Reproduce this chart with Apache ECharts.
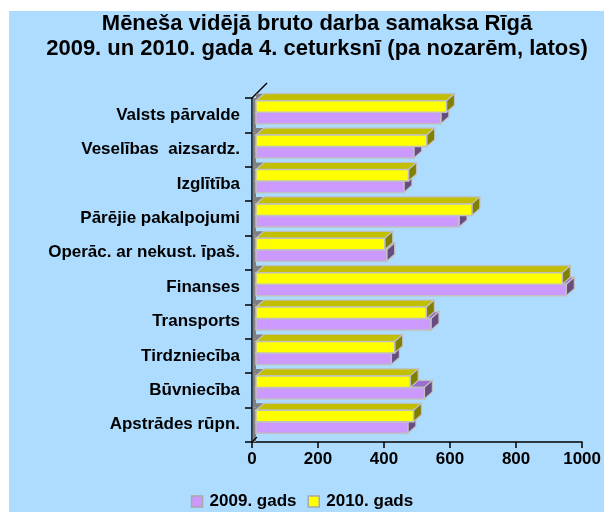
<!DOCTYPE html>
<html>
<head>
<meta charset="utf-8">
<script src="https://cdn.jsdelivr.net/npm/echarts@6/dist/echarts.min.js"></script>
<style>
  html, body { margin: 0; padding: 0; background: #fff; }
  #chart { width: 604px; height: 512px; }
</style>
</head>
<body>
<div id="chart"></div>
<script>
// nozares (no apakšas uz augšu)
const categories = ['Apstrādes rūpn.', 'Būvniecība', 'Tirdzniecība', 'Transports', 'Finanses',
  'Operāc. ar nekust. īpaš.', 'Pārējie pakalpojumi', 'Izglītība', 'Veselības  aizsardz.', 'Valsts pārvalde'];
const values2009 = [460, 510, 410, 530, 940, 396, 615, 448, 478, 560];
const values2010 = [477, 467, 420, 516, 928, 390, 654, 462, 517, 577];
const seriesNames = ['2009. gads', '2010. gads'];
const xMin = 0;
const xMax = 1000;
const xStep = 200;

const FONT = "'Liberation Sans', Arial, sans-serif";
const BORDER = '#c0c0c0';
const WALL = '#808080';

// krāsas: priekša, augša, sāns
const palette = [
  { front: '#cc99ff', top: '#9a70cc', side: '#664c80' },
  { front: '#ffff00', top: '#c2bf00', side: '#808000' }
];

function makeRender(s) {
  const c = palette[s];
  return function (params, api) {
    const idx = api.value(1);
    const base = api.coord([0, idx]);
    const end = api.coord([api.value(0), idx]);
    const band = api.size([0, 1])[1];
    const h = band * 0.335;
    const shift = 4, dx = 8, dy = 7;
    const x0 = base[0] + shift;
    const x1 = end[0] + shift;
    const mid = base[1] - 3;
    const yT = s === 1 ? mid - h : mid;
    const children = [];
    if (s === 0) {
      // sānu siena
      children.push({
        type: 'rect',
        shape: { x: base[0] + 0.75, y: base[1] - band / 2, width: shift - 0.75, height: band },
        style: { fill: WALL }
      });
      if (idx === categories.length - 1) {
        const yt = base[1] - band / 2;
        children.push({
          type: 'line',
          shape: { x1: base[0], y1: yt, x2: base[0] + 15, y2: yt - 15 },
          style: { stroke: '#000', lineWidth: 1.5 }
        });
      }
      if (idx === 0) {
        const yb = base[1] + band / 2;
        children.push({
          type: 'line',
          shape: { x1: base[0], y1: yb, x2: base[0] + 5, y2: yb - 5 },
          style: { stroke: '#000', lineWidth: 1.2 }
        });
      }
    } else {
      children.push({
        type: 'polygon',
        shape: { points: [[x0, yT - dy], [x0 + dx, yT - dy], [x0, yT]] },
        style: { fill: WALL }
      });
    }
    // augšējā virsma
    children.push({
      type: 'polygon',
      shape: { points: [[x0, yT], [x0 + dx, yT - dy], [x1 + dx, yT - dy], [x1, yT]] },
      style: { fill: c.top, stroke: BORDER, lineWidth: 1.2 }
    });
    // sāns
    children.push({
      type: 'polygon',
      shape: { points: [[x1, yT], [x1 + dx, yT - dy], [x1 + dx, yT + h - dy], [x1, yT + h]] },
      style: { fill: c.side, stroke: BORDER, lineWidth: 1.2 }
    });
    // priekšpuse
    children.push({
      type: 'rect',
      shape: { x: x0, y: yT, width: x1 - x0, height: h },
      style: { fill: c.front, stroke: BORDER, lineWidth: 1.5 }
    });
    return { type: 'group', children: children };
  };
}

const chart = echarts.init(document.getElementById('chart'), null, { renderer: 'canvas' });
chart.setOption({
  backgroundColor: '#ffffff',
  animation: false,
  textStyle: { fontFamily: FONT },
  graphic: [{
    type: 'rect',
    z: -10,
    shape: { x: 9, y: 11, width: 600, height: 510 },
    style: { fill: '#aedcff' }
  }],
  title: {
    text: 'Mēneša vidējā bruto darba samaksa Rīgā\n2009. un 2010. gada 4. ceturksnī (pa nozarēm, latos)',
    left: 312,
    top: 6,
    textAlign: 'center',
    textStyle: { fontFamily: FONT, fontSize: 22, fontWeight: 'bold', color: '#000', lineHeight: 25 }
  },
  legend: {
    data: seriesNames,
    top: 488,
    left: 'center',
    icon: 'rect',
    itemWidth: 11,
    itemHeight: 11,
    itemGap: 11,
    itemStyle: { borderColor: '#a8a8a8', borderWidth: 1.5 },
    textStyle: { fontFamily: FONT, fontSize: 17, fontWeight: 'bold', color: '#000', padding: [0, 0, 0, 2] }
  },
  grid: { left: 252, right: 17, top: 98, bottom: 70, containLabel: false },
  xAxis: {
    type: 'value',
    min: xMin,
    max: xMax,
    interval: xStep,
    splitLine: { show: false },
    axisLine: { show: true, lineStyle: { color: '#000', width: 1.5 } },
    axisTick: { show: true, length: 6, lineStyle: { color: '#000', width: 1.5 } },
    axisLabel: {
      margin: 9,
      formatter: function (v) { return String(v); },
      fontFamily: FONT, fontSize: 17, fontWeight: 'bold', color: '#000'
    }
  },
  yAxis: {
    type: 'category',
    data: categories,
    axisLine: { show: true, lineStyle: { color: '#000', width: 1.5 } },
    axisTick: { show: true, length: 7, lineStyle: { color: '#000', width: 1.5 } },
    axisLabel: { margin: 12, padding: [0, 0, 3, 0], fontFamily: FONT, fontSize: 17, fontWeight: 'bold', color: '#000' }
  },
  series: [
    {
      name: seriesNames[0],
      type: 'custom',
      itemStyle: { color: palette[0].front },
      renderItem: makeRender(0),
      encode: { x: 0, y: 1 },
      data: values2009.map((v, i) => [v, i])
    },
    {
      name: seriesNames[1],
      type: 'custom',
      itemStyle: { color: palette[1].front },
      renderItem: makeRender(1),
      encode: { x: 0, y: 1 },
      data: values2010.map((v, i) => [v, i])
    }
  ]
});
</script>
</body>
</html>
